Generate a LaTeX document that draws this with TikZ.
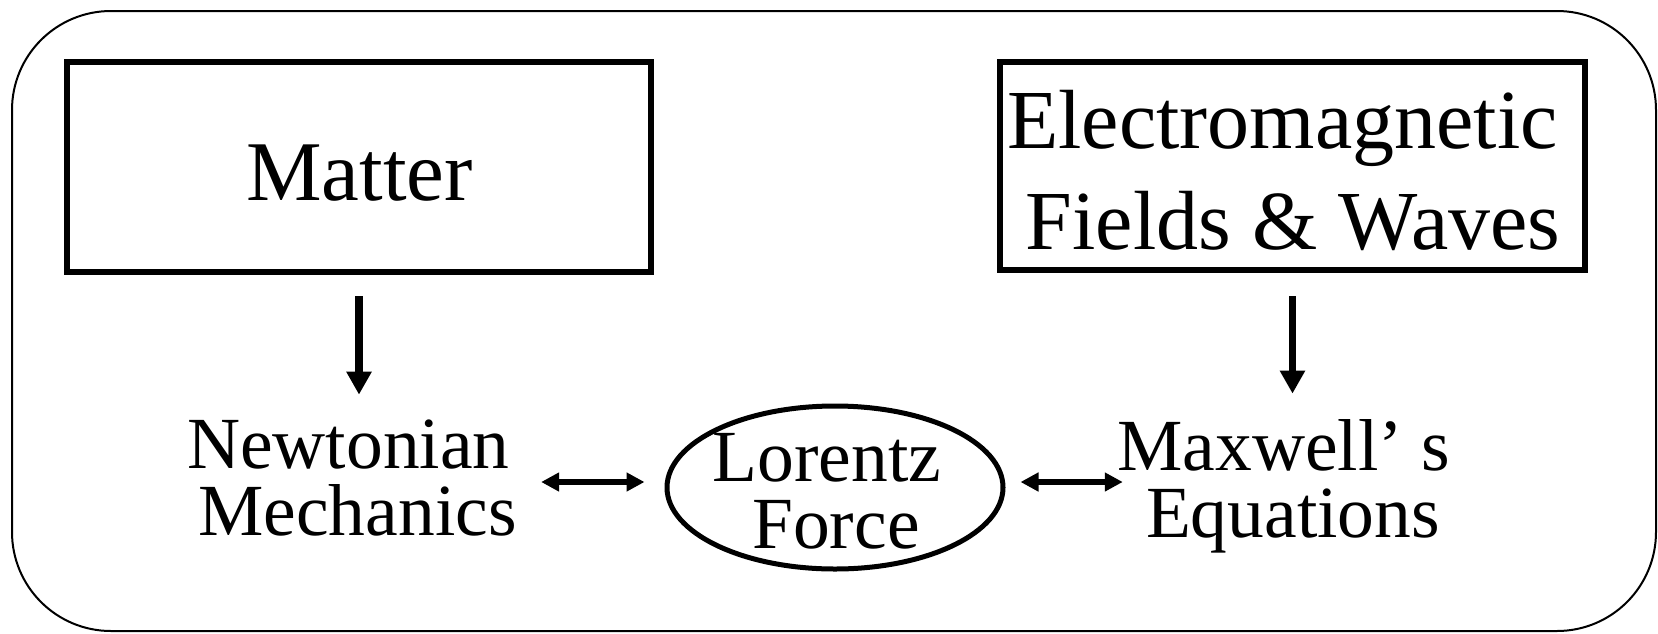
\documentclass[tikz,border=0pt]{standalone}
\usepackage{fontspec}
\setmainfont{Liberation Serif}
\usetikzlibrary{arrows.meta,shapes.geometric}
\tikzset{
  box/.style={draw, line width=6pt, rectangle, inner sep=0pt},
  bigtext/.style={inner sep=0pt, align=center, font=\fontsize{84}{101}\selectfont},
  smalltext/.style={inner sep=0pt, align=center, font=\fontsize{73.5}{67}\selectfont},
  downarr/.style={line width=7.5pt, -{Triangle[length=23pt,width=24pt]}},
  bothArr/.style={line width=6.5pt, {Triangle[length=18pt,width=18pt]}-{Triangle[length=18pt,width=18pt]}},
}
\begin{document}
\begin{tikzpicture}[x=1pt,y=-1pt]
\useasboundingbox (0,0) rectangle (1658,633);
% outer frame
\draw[line width=2pt, rounded corners=99pt] (12,11) rectangle (1656,631);
% boxes
\node[box, minimum width=584pt, minimum height=210pt] (matter) at (359,166.5) {};
\node[inner sep=0pt, anchor=base, font=\fontsize{85}{100}\selectfont] (mattertext) at (359.5,200) {Matter};
\node[box, minimum width=585pt, minimum height=208.5pt] (emf) at (1292.5,166) {};
\node[bigtext] (emftext) at (1293,170.3) {Electromagnetic\kern.25em\\Fields \& Waves};
% lower texts
\node[smalltext] (newton) at (357.5,477.8) {Newtonian\kern.25em\\Mechanics};
\node[draw, ellipse, line width=5pt, inner sep=0pt, minimum width=336pt, minimum height=163pt] (lorentz) at (835,487.5) {};
\node[smalltext] (lorentztext) at (836,491.5) {Lorentz\kern.25em\\Force};
\node[smalltext] (maxwell) at (1293,486.4) {Maxwell’ s\kern.25em\\Equations};
% vertical arrows
\draw[downarr, shorten <=21.5pt, shorten >=24.8pt] (matter.south) -- (matter.south |- newton.north);
\draw[downarr, shorten <=23pt, shorten >=25.8pt] (emf.south) -- (emf.south |- maxwell.north);
% horizontal arrows
\coordinate (la) at ([yshift=5.5pt]lorentz.west);
\coordinate (ra) at ([yshift=5.5pt]lorentz.east);
\draw[bothArr, shorten <=13pt, shorten >=20pt] (newton.east |- la) -- (la);
\draw[bothArr, shorten <=15pt, shorten >=-5.5pt] (ra) -- (maxwell.west |- ra);
\end{tikzpicture}
\end{document}
